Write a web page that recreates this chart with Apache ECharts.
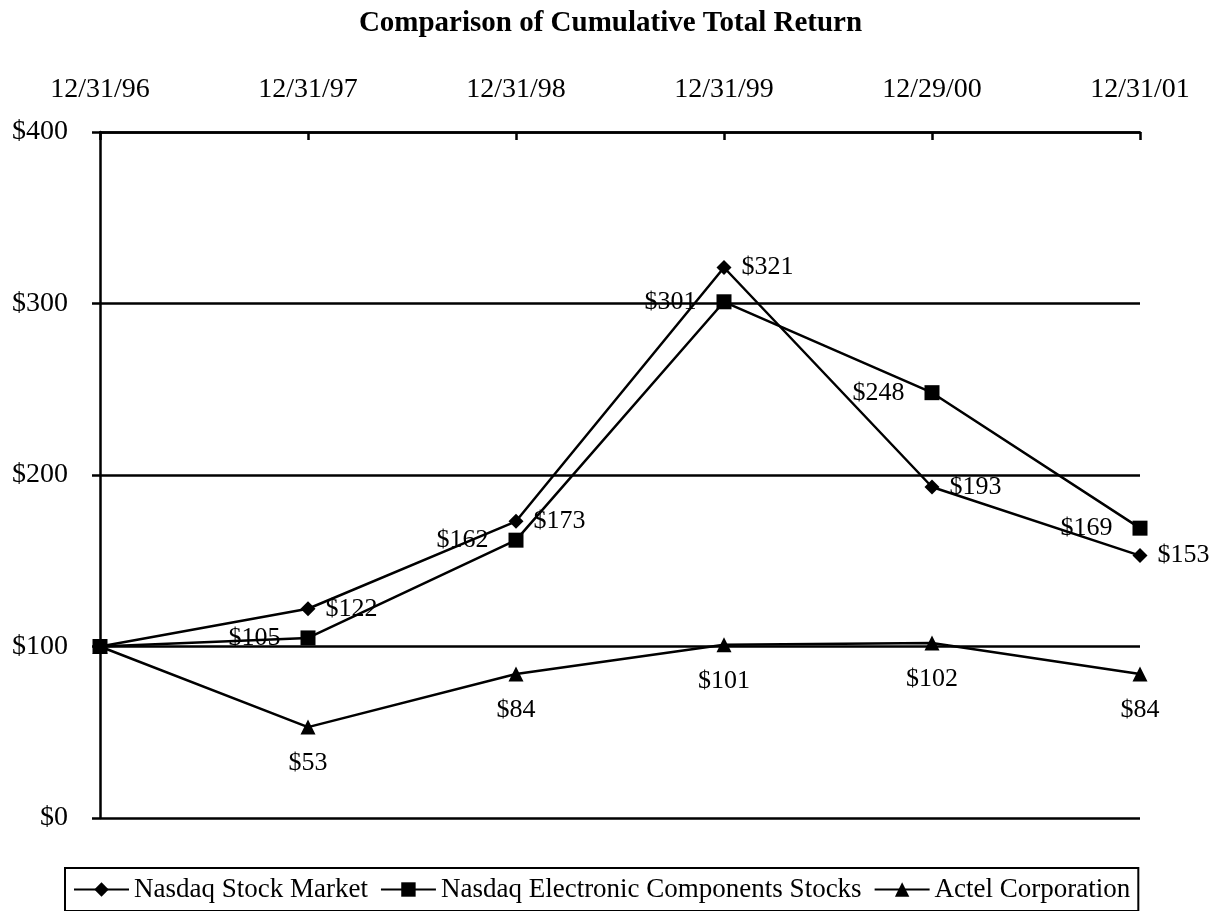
<!DOCTYPE html>
<html>
<head>
<meta charset="utf-8">
<script src="https://cdn.jsdelivr.net/npm/echarts@6/dist/echarts.min.js"></script>
<style>
html,body{margin:0;padding:0;background:#fff;}
#chart{width:1221px;height:911px;}
</style>
</head>
<body>
<div id="chart"></div>
<script>
const categories = ['12/31/96', '12/31/97', '12/31/98', '12/31/99', '12/29/00', '12/31/01'];
const nasdaqStock = [100, 122, 173, 321, 193, 153];
const nasdaqElectronic = [100, 105, 162, 301, 248, 169];
const actel = [100, 53, 84, 101, 102, 84];
const yTicks = [0, 100, 200, 300, 400];

const FONT = '"Liberation Serif", "Times New Roman", serif';
const chart = echarts.init(document.getElementById('chart'));

function labelFmt(p) { return p.dataIndex === 0 ? '' : '$' + p.value; }

chart.setOption({
  animation: false,
  backgroundColor: '#fff',
  title: {
    text: 'Comparison of Cumulative Total Return',
    left: 'center',
    top: 4,
    textStyle: { fontFamily: FONT, fontSize: 29, fontWeight: 'bold', color: '#000' }
  },
  legend: {
    left: 65,
    top: 868,
    orient: 'horizontal',
    padding: [8, 8, 8, 8],
    borderColor: '#000',
    borderWidth: 2,
    itemWidth: 55,
    itemHeight: 18,
    itemGap: 12,
    textStyle: { fontFamily: FONT, fontSize: 27, color: '#000' },
    data: ['Nasdaq Stock Market', 'Nasdaq Electronic Components Stocks', 'Actel Corporation']
  },
  grid: { left: 100, right: 81, top: 132, bottom: 93, containLabel: false },
  xAxis: {
    type: 'category',
    position: 'top',
    data: categories,
    boundaryGap: false,
    axisLine: { show: true, onZero: false, lineStyle: { color: '#000', width: 2.5 } },
    axisTick: { show: true, inside: true, length: 8, alignWithLabel: true, lineStyle: { color: '#000', width: 2.5 } },
    axisLabel: { fontFamily: FONT, fontSize: 28, color: '#000', margin: 28 },
    splitLine: { show: false }
  },
  yAxis: {
    type: 'value',
    min: 0,
    max: 400,
    interval: 100,
    axisLine: { show: true, lineStyle: { color: '#000', width: 2.5 } },
    axisTick: { show: true, inside: false, length: 8, lineStyle: { color: '#000', width: 2.5 } },
    axisLabel: {
      fontFamily: FONT, fontSize: 28, color: '#000', margin: 32,
      formatter: function (v) { return yTicks.indexOf(v) >= 0 ? '$' + v : ''; }
    },
    splitLine: { show: true, lineStyle: { color: '#000', width: 2.5 } }
  },
  series: [
    {
      name: 'Nasdaq Stock Market',
      type: 'line',
      data: nasdaqStock,
      symbol: 'diamond',
      symbolSize: 15,
      itemStyle: { color: '#000' },
      lineStyle: { color: '#000', width: 2.5 },
      label: { show: true, position: 'right', distance: 10, formatter: labelFmt,
        fontFamily: FONT, fontSize: 26, color: '#000' },
      z: 3
    },
    {
      name: 'Nasdaq Electronic Components Stocks',
      type: 'line',
      data: nasdaqElectronic,
      symbol: 'rect',
      symbolSize: 15,
      itemStyle: { color: '#000' },
      lineStyle: { color: '#000', width: 2.5 },
      label: { show: true, position: 'left', distance: 20, formatter: labelFmt,
        fontFamily: FONT, fontSize: 26, color: '#000' },
      z: 3
    },
    {
      name: 'Actel Corporation',
      type: 'line',
      data: actel,
      symbol: 'triangle',
      symbolSize: 15,
      itemStyle: { color: '#000' },
      lineStyle: { color: '#000', width: 2.5 },
      label: { show: true, position: 'bottom', distance: 16, formatter: labelFmt,
        fontFamily: FONT, fontSize: 26, color: '#000' },
      z: 3
    }
  ]
});
</script>
</body>
</html>
